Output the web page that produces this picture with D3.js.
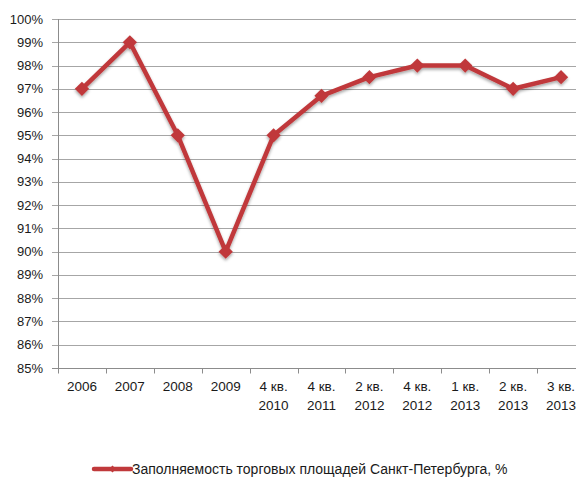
<!DOCTYPE html>
<meta charset="utf-8">
<style>
  body { margin: 0; background: white; }
  text { font-family: "Liberation Sans", Arial, sans-serif; fill: #1a1a1a; }
  .grid line { stroke: #a6a6a6; stroke-width: 1; }
</style>
<body>
<script src="https://d3js.org/d3.v7.min.js"></script>
<script>
  var categories = ["2006", "2007", "2008", "2009", "4 кв.|2010", "4 кв.|2011",
                    "2 кв.|2012", "4 кв.|2012", "1 кв.|2013", "2 кв.|2013", "3 кв.|2013"];
  var occupancy = [97, 99, 95, 90, 95, 96.7, 97.5, 98, 98, 97, 97.5];
  var yTicks = [85, 86, 87, 88, 89, 90, 91, 92, 93, 94, 95, 96, 97, 98, 99, 100];
  var seriesName = "Заполняемость торговых площадей Санкт-Петербурга, %";

  var width = 576, height = 478;
  var margin = {left: 58, top: 19, right: -9, bottom: 110};
  var lineColor = "#c0393b";

  var svg = d3.select("body").append("svg")
      .attr("width", width)
      .attr("height", height);

  var defs = svg.append("defs");
  var f = defs.append("filter").attr("id", "shadow")
      .attr("x", "-20%").attr("y", "-20%").attr("width", "140%").attr("height", "160%");
  f.append("feDropShadow").attr("dx", 0).attr("dy", 2).attr("stdDeviation", 1.5)
      .attr("flood-color", "#000").attr("flood-opacity", 0.35);

  var x = d3.scaleBand()
      .domain(categories)
      .range([margin.left, width - margin.right]);

  var y = d3.scaleLinear()
      .domain([85, 100])
      .range([height - margin.bottom, margin.top]);

  // horizontal gridlines
  var grid = svg.append("g").attr("class", "grid");
  grid.selectAll("line")
      .data(yTicks.filter(function(d) { return d > 85; }))
      .enter().append("line")
      .attr("x1", margin.left - 6)
      .attr("x2", width - margin.right)
      .attr("y1", function(d) { return Math.round(y(d)) + 0.5; })
      .attr("y2", function(d) { return Math.round(y(d)) + 0.5; });

  svg.append("g").selectAll("text")
      .data(yTicks)
      .enter().append("text")
      .attr("x", 43)
      .attr("y", function(d) { return y(d) + 4.5; })
      .attr("text-anchor", "end")
      .style("font-size", "13px")
      .text(function(d) { return d + "%"; });

  var y0 = Math.round(y(85)) + 0.5;
  var x0 = Math.round(margin.left) + 0.5;

  // axis lines
  svg.append("line")
      .attr("x1", x0).attr("x2", x0)
      .attr("y1", margin.top).attr("y2", y0)
      .attr("stroke", "#8c8c8c");
  svg.append("line")
      .attr("x1", margin.left - 6).attr("x2", width - margin.right)
      .attr("y1", y0).attr("y2", y0)
      .attr("stroke", "#8c8c8c");

  // x ticks between categories
  svg.append("g").selectAll("line")
      .data(categories)
      .enter().append("line")
      .attr("x1", function(d) { return Math.round(x(d)) + 0.5; })
      .attr("x2", function(d) { return Math.round(x(d)) + 0.5; })
      .attr("y1", y0)
      .attr("y2", y0 + 5)
      .attr("stroke", "#8c8c8c");

  // x labels
  var labels = svg.append("g").selectAll("text")
      .data(categories)
      .enter().append("text")
      .attr("text-anchor", "middle")
      .style("font-size", "13.5px")
      .attr("transform", function(d) {
        return "translate(" + (x(d) + x.bandwidth() / 2) + "," + (y0 + 22) + ")";
      });
  labels.selectAll("tspan")
      .data(function(d) { return d.split("|"); })
      .enter().append("tspan")
      .attr("x", 0)
      .attr("dy", function(d, i) { return i === 0 ? 0 : 19; })
      .text(function(d) { return d; });

  // series
  var pts = categories.map(function(c, i) { return [x(c) + x.bandwidth() / 2, y(occupancy[i])]; });
  var g = svg.append("g").attr("filter", "url(#shadow)");
  g.append("path")
      .datum(pts)
      .attr("d", d3.line())
      .attr("fill", "none")
      .attr("stroke", lineColor)
      .attr("stroke-width", 4.5)
      .attr("stroke-linejoin", "round");
  var diamond = d3.symbol().type(d3.symbolDiamond2).size(130);
  g.selectAll(".marker")
      .data(pts)
      .enter().append("path")
      .attr("class", "marker")
      .attr("d", diamond)
      .attr("transform", function(d) { return "translate(" + d[0] + "," + d[1] + ")"; })
      .attr("fill", lineColor);

  // legend
  var ly = 469;
  var lg = svg.append("g");
  lg.append("line")
      .attr("x1", 94).attr("x2", 131)
      .attr("y1", ly).attr("y2", ly)
      .attr("stroke", lineColor).attr("stroke-width", 4.5)
      .attr("stroke-linecap", "round");
  lg.append("path")
      .attr("d", d3.symbol().type(d3.symbolDiamond2).size(30))
      .attr("transform", "translate(112.5," + ly + ")")
      .attr("fill", lineColor);
  lg.append("text")
      .attr("x", 132)
      .attr("y", ly + 5)
      .style("font-size", "14px")
      .text(seriesName);
</script>
</body>
